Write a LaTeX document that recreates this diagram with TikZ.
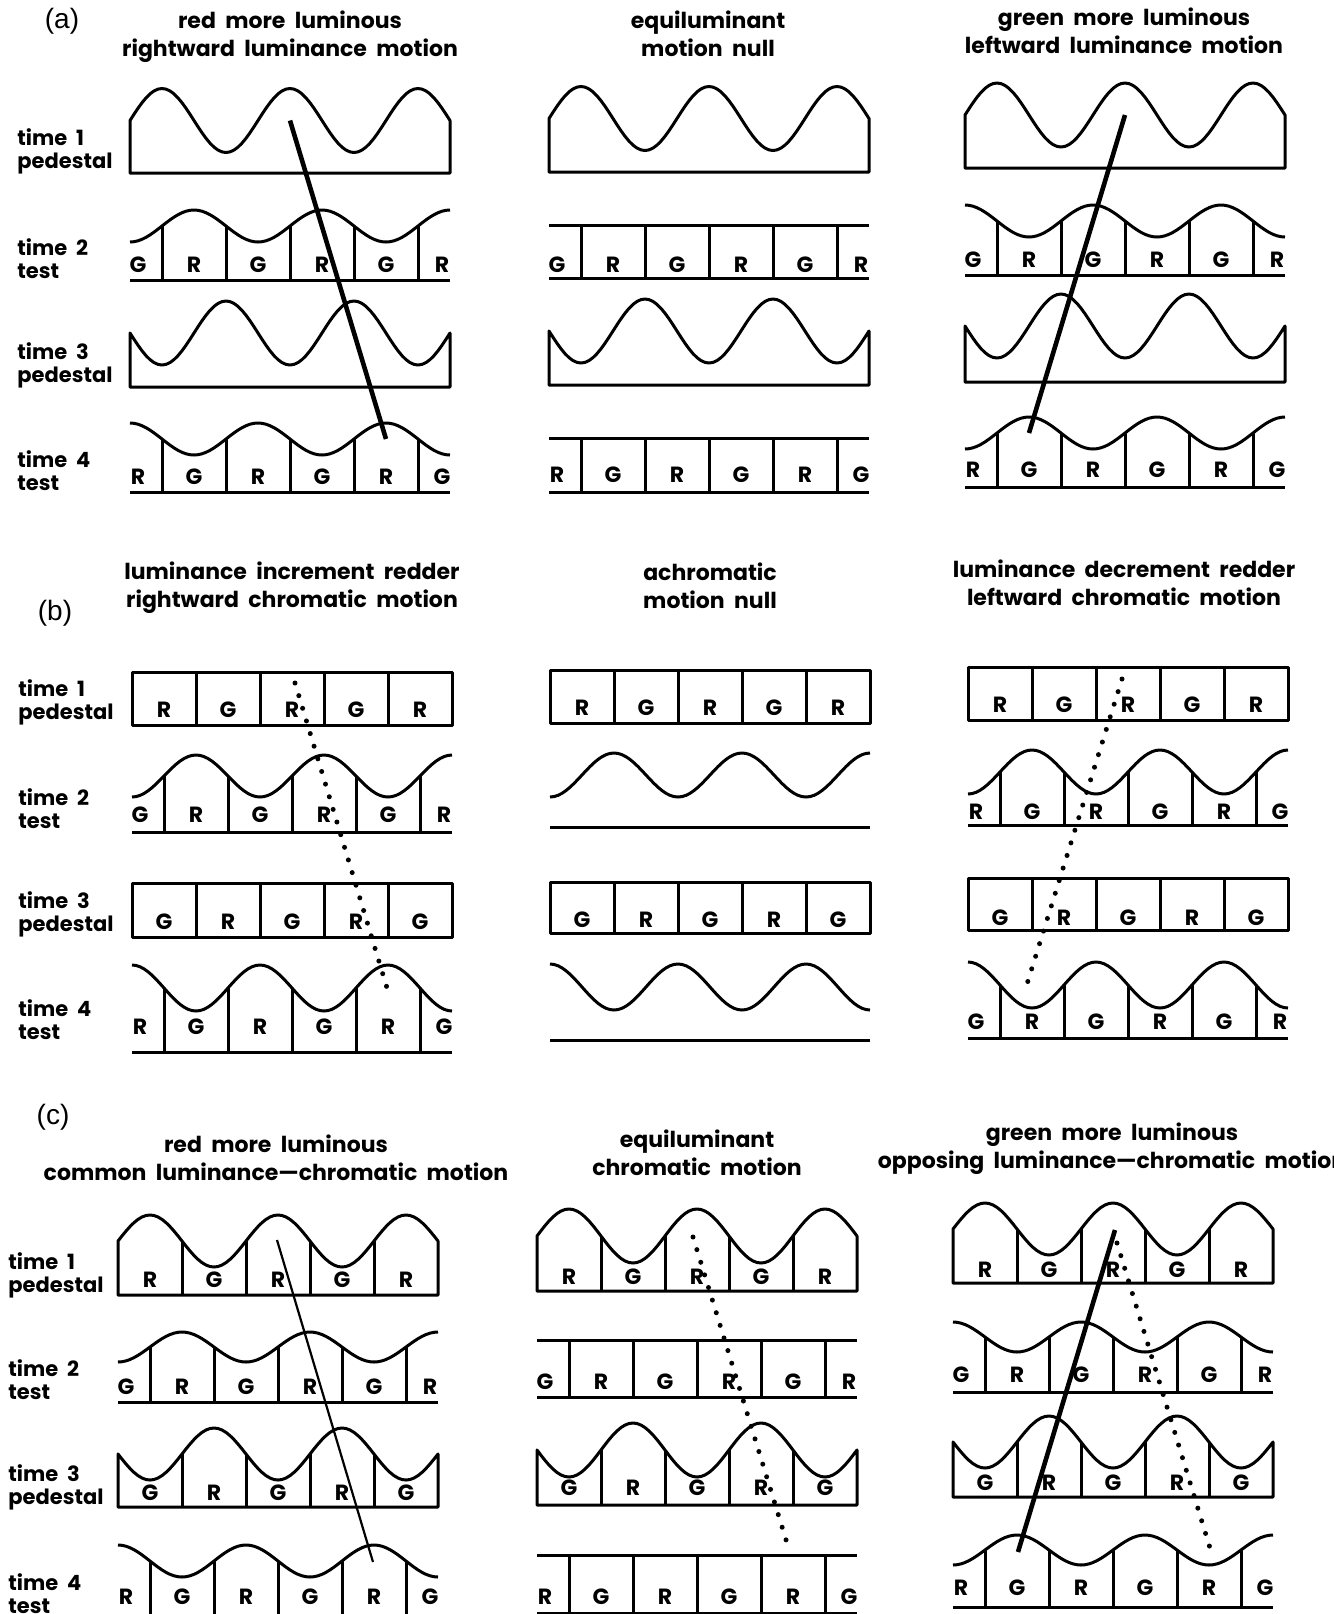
\documentclass[tikz,border=0pt]{standalone}
\usepackage{fontspec}
\setmainfont{Poppins}[WordSpace=2]
\newfontfamily\tagfont{Liberation Sans}
\usetikzlibrary{calc}

% luminance pedestal on a flat base
\newcommand{\pedwave}[5]{% x0, centre, amp, phase, base
  \draw[grat] (#1,#5) -- (#1,{#2-#3*cos(-2.8125*#4)})
    -- plot[domain=0:320, samples=81] ({#1+\x},{#2-#3*cos(2.8125*(\x-#4))})
    -- (#1+320,#5) -- cycle;
}
% plain chromatic pedestal
\newcommand{\pedbox}[3]{% x0, top, base
  \draw[grat] (#1,#2) rectangle (#1+320,#3);
}
% R/G bars of a pedestal
\newcommand{\pedcells}[6]{% x0, top, base, letter y, first, second
  \foreach \k in {1,...,4} \draw[grat] ({#1+64*\k},#2) -- ({#1+64*\k},#3);
  \foreach \k in {0,...,4} {
    \ifodd\k\relax\def\gl{#6}\else\def\gl{#5}\fi
    \node[glyph] (p#1-#4-\k) at ({#1+32+64*\k},#4) {\gl};
  }
}
% test grating (amp 0 gives a flat edge)
\newcommand{\testwave}[4]{% x0, centre, amp, phase
  \draw[grat] plot[domain=0:320, samples=81] ({#1+\x},{#2-#3*cos(2.8125*(\x-#4))});
}
\newcommand{\testcells}[6]{% x0, centre, base, letter y, first, second
  \draw[grat] (#1,#3) -- (#1+320,#3);
  \foreach \k in {0,...,4} \draw[grat] ({#1+32+64*\k},#2) -- ({#1+32+64*\k},#3);
  \foreach \dx [count=\k] in {8,64,128,192,256,312} {
    \ifodd\k\relax\def\gl{#5}\else\def\gl{#6}\fi
    \node[glyph] (t#1-#4-\k) at (#1+\dx,#4) {\gl};
  }
}

\begin{document}
\begin{tikzpicture}[
  x=0.5pt, y=-0.5pt,
  grat/.style={line width=1.5pt, line join=round},
  glyph/.style={font=\bfseries\fontsize{11}{13}\selectfont, inner sep=0pt},
  rowlab/.style={font=\bfseries\fontsize{10.5}{11.5}\selectfont, align=left, anchor=west, inner sep=0pt},
  title/.style={font=\bfseries\fontsize{11}{14}\selectfont, align=center, inner sep=0pt},
  tag/.style={font=\tagfont\fontsize{14}{16}\selectfont, inner sep=0pt},
  lumline/.style={line width=2.3pt},
  chromline/.style={line width=2.5pt, line cap=round, dash pattern=on 0pt off 6.6pt}
]
  \useasboundingbox (0,0) rectangle (1334,1614);

  % (a) luminance motion
  \node[tag] (tag-a) at (62,21) {(a)};
  \node[title] (a-left) at (290,37) {red more luminous\\rightward luminance motion};
  \node[title] (a-mid) at (708,34) {equiluminant\\motion null};
  \node[title] (a-right) at (1124,31) {green more luminous\\leftward luminance motion};
  \foreach \t/\w/\y in {1/pedestal/151,2/test/259,3/pedestal/365,4/test/471}
    \node[rowlab] (a-t\t) at (17,\y) {time \t\\\w};

  \pedwave{130}{120.5}{32}{32}{173}
  \testwave{130}{226}{16}{64}
  \testcells{130}{226}{280}{265}{G}{R}
  \pedwave{130}{333}{32}{96}{387}
  \testwave{130}{439}{16}{0}
  \testcells{130}{439}{492}{477}{R}{G}
  \coordinate (a1-from) at (290,120.5);
  \coordinate (a1-to) at (386,439);
  \draw[lumline] (a1-from) -- (a1-to);

  \pedwave{549}{118.5}{32}{32}{172}
  \testwave{549}{225}{0}{0}
  \testcells{549}{225}{278}{265}{G}{R}
  \pedwave{549}{331}{32}{96}{385}
  \testwave{549}{438}{0}{0}
  \testcells{549}{438}{492}{475}{R}{G}

  \pedwave{965}{115}{32}{32}{168}
  \testwave{965}{221}{16}{0}
  \testcells{965}{221}{275}{260}{G}{R}
  \pedwave{965}{326}{32}{96}{382}
  \testwave{965}{433}{16}{64}
  \testcells{965}{433}{487}{470}{R}{G}
  \coordinate (a3-from) at (1125,115);
  \coordinate (a3-to) at (1029,433);
  \draw[lumline] (a3-from) -- (a3-to);

  % (b) chromatic motion
  \node[tag] (tag-b) at (55,613) {(b)};
  \node[title] (b-left) at (292,588) {luminance increment redder\\rightward chromatic motion};
  \node[title] (b-mid) at (710,586) {achromatic\\motion null};
  \node[title] (b-right) at (1124,583) {luminance decrement redder\\leftward chromatic motion};
  \foreach \t/\w/\y in {1/pedestal/702,2/test/809,3/pedestal/914,4/test/1020}
    \node[rowlab] (b-t\t) at (18,\y) {time \t\\\w};

  \pedbox{132}{672}{725}
  \pedcells{132}{672}{725}{710}{R}{G}
  \testwave{132}{776}{21}{64}
  \testcells{132}{776}{832}{815}{G}{R}
  \pedbox{132}{883}{937}
  \pedcells{132}{883}{937}{922}{G}{R}
  \testwave{132}{988}{23}{0}
  \testcells{132}{988}{1052}{1027}{R}{G}
  \coordinate (b1-from) at (295,683);
  \coordinate (b1-to) at (387,988);
  \draw[chromline] (b1-from) -- (b1-to);

  \pedbox{550}{670}{723}
  \pedcells{550}{670}{723}{708}{R}{G}
  \testwave{550}{775}{22}{64}
  \draw[grat] (550,827) -- (870,827);
  \pedbox{550}{882}{933}
  \pedcells{550}{882}{933}{920}{G}{R}
  \testwave{550}{987}{23}{0}
  \draw[grat] (550,1040) -- (870,1040);

  \pedbox{968}{667}{720}
  \pedcells{968}{667}{720}{705}{R}{G}
  \testwave{968}{772}{22}{64}
  \testcells{968}{772}{825}{812}{R}{G}
  \pedbox{968}{878}{930}
  \pedcells{968}{878}{930}{918}{G}{R}
  \testwave{968}{985}{23}{0}
  \testcells{968}{985}{1038}{1022}{G}{R}
  \coordinate (b3-from) at (1122,679);
  \coordinate (b3-to) at (1027,984);
  \draw[chromline] (b3-from) -- (b3-to);

  % (c) luminance and chromatic together
  \node[tag] (tag-c) at (53,1117) {(c)};
  \node[title] (c-left) at (276,1158) {red more luminous\\common luminance—chromatic motion};
  \node[title] (c-mid) at (697,1153) {equiluminant\\chromatic motion};
  \node[title] (c-right) at (1112,1149) {green more luminous\\opposing luminance—chromatic motion};
  \foreach \t/\w/\y in {1/pedestal/1275,2/test/1380,3/pedestal/1487,4/test/1594}
    \node[rowlab] (c-t\t) at (8,\y) {time \t\\\w};

  \pedwave{118}{1241}{26}{32}{1295}
  \pedcells{118}{1241}{1295}{1280}{R}{G}
  \testwave{118}{1347}{15}{64}
  \testcells{118}{1347}{1402}{1387}{G}{R}
  \pedwave{118}{1454}{26}{96}{1507}
  \pedcells{118}{1454}{1507}{1493}{G}{R}
  \testwave{118}{1561}{16}{0}
  \testcells{118}{1561}{1618}{1597}{R}{G}
  \coordinate (c1-from) at (277,1240);
  \coordinate (c1-to) at (373,1562);
  \draw[line width=1.1pt] (c1-from) -- (c1-to);

  \pedwave{537}{1236}{27}{32}{1291}
  \pedcells{537}{1236}{1291}{1277}{R}{G}
  \testwave{537}{1340}{0}{0}
  \testcells{537}{1340}{1397}{1382}{G}{R}
  \pedwave{537}{1450}{27}{96}{1505}
  \pedcells{537}{1450}{1505}{1488}{G}{R}
  \testwave{537}{1555}{0}{0}
  \testcells{537}{1555}{1613}{1597}{R}{G}
  \coordinate (c2-from) at (693,1237);
  \coordinate (c2-to) at (787,1543);
  \draw[chromline] (c2-from) -- (c2-to);

  \pedwave{953}{1229}{26}{32}{1283}
  \pedcells{953}{1229}{1283}{1270}{R}{G}
  \testwave{953}{1337}{15}{0}
  \testcells{953}{1337}{1392}{1375}{G}{R}
  \pedwave{953}{1442}{26}{96}{1497}
  \pedcells{953}{1442}{1497}{1483}{G}{R}
  \testwave{953}{1550}{15}{64}
  \testcells{953}{1550}{1607}{1588}{R}{G}
  \coordinate (c3-from) at (1115,1230);
  \coordinate (c3-to) at (1018,1552);
  \draw[lumline] (c3-from) -- (c3-to);
  \coordinate (c3-dfrom) at (1117,1243);
  \coordinate (c3-dto) at (1210,1548);
  \draw[chromline] (c3-dfrom) -- (c3-dto);
\end{tikzpicture}
\end{document}
